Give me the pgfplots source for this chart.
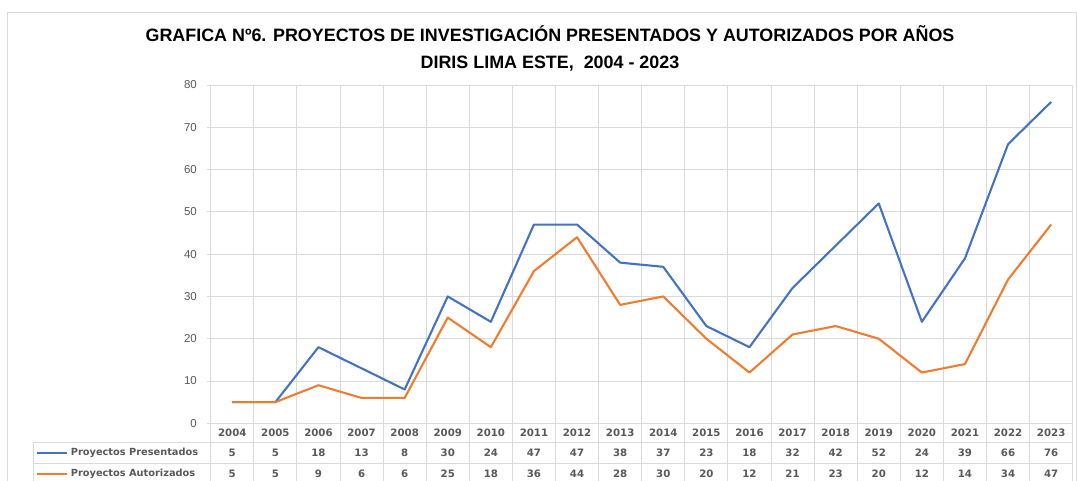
\documentclass[border=0pt]{standalone}
\usepackage{pgfplots}
\pgfplotsset{compat=1.18}
\usepackage{pgfplotstable}
\usepackage{fontspec}
\setmainfont{Liberation Sans}
\newfontfamily\dejavu{DejaVu Sans}
\definecolor{exblue}{HTML}{4472C4}
\definecolor{exorange}{HTML}{ED7D31}
\definecolor{gridc}{HTML}{D9D9D9}
\definecolor{txtgray}{HTML}{595959}

\pgfplotstableread{
year pres aut
2004 5 5
2005 5 5
2006 18 9
2007 13 6
2008 8 6
2009 30 25
2010 24 18
2011 47 36
2012 47 44
2013 38 28
2014 37 30
2015 23 20
2016 18 12
2017 32 21
2018 42 23
2019 52 20
2020 24 12
2021 39 14
2022 66 34
2023 76 47
}\data

\begin{document}
\begin{tikzpicture}
\useasboundingbox (-210.7pt,-56.7pt) rectangle (866.3pt,423.3pt);
% outer chart border
\draw[gridc, line width=0.9pt] (-203.7pt,-80pt) rectangle (865.3pt,411.3pt);
% title
\node[anchor=base, font=\fontsize{17.9}{20}\selectfont\bfseries] at (339.3pt,382pt)
  {GRAFICA Nº6. PROYECTOS DE INVESTIGACIÓN PRESENTADOS Y AUTORIZADOS POR AÑOS};
\node[anchor=base, font=\fontsize{17.9}{20}\selectfont\bfseries] at (339.3pt,354.3pt)
  {DIRIS LIMA ESTE,\ \ 2004 - 2023};

\begin{axis}[
  at={(0pt,0pt)}, anchor=south west,
  scale only axis, width=862pt, height=338.3pt,
  xmin=-0.5, xmax=19.5, ymin=0, ymax=80,
  ytick={0,10,...,80},
  xtick={-0.5,0.5,...,19.5},
  xticklabels={},
  xmajorgrids, ymajorgrids,
  major grid style={gridc, line width=0.9pt},
  axis line style={gridc, line width=0.9pt},
  x tick style={draw=none},
  y tick style={gridc, line width=0.9pt},
  ytick pos=left,
  tick align=outside,
  major tick length=4pt,
  /pgf/number format/assume math mode=true,
  yticklabel style={font=\fontsize{11.5}{13}\selectfont, text=txtgray, inner sep=0pt, anchor=east, xshift=-9.7pt},
  clip=false,
]
\addplot[exblue, line width=2.1pt, line join=round, mark=none] table[x expr=\coordindex, y=pres]{\data};
\addplot[exorange, line width=2.1pt, line join=round, mark=none] table[x expr=\coordindex, y=aut]{\data};
\end{axis}

% data table grid
\foreach \k in {0,...,20} {
  \draw[gridc, line width=0.9pt] ({\k*43.1pt},0pt) -- ({\k*43.1pt},-70pt);
}
\draw[gridc, line width=0.9pt] (-177.7pt,-19.4pt) -- (862pt,-19.4pt);
\draw[gridc, line width=0.9pt] (-177.7pt,-40pt) -- (862pt,-40pt);
\draw[gridc, line width=0.9pt] (-177.7pt,-60.7pt) -- (862pt,-60.7pt);
\draw[gridc, line width=0.9pt] (-177.7pt,-19.4pt) -- (-177.7pt,-70pt);
% legend keys
\draw[exblue, line width=2pt] (-173.7pt,-29.7pt) -- (-143.7pt,-29.7pt);
\draw[exorange, line width=2pt] (-173.7pt,-50.3pt) -- (-143.7pt,-50.3pt);
\node[anchor=west, inner sep=0pt, text=txtgray, font=\dejavu\fontsize{9.8}{11}\selectfont\bfseries] at (-140pt,-29.7pt) {Proyectos Presentados};
\node[anchor=west, inner sep=0pt, text=txtgray, font=\dejavu\fontsize{9.8}{11}\selectfont\bfseries] at (-140pt,-50.3pt) {Proyectos Autorizados};
% table values
\foreach \i in {0,...,19} {
  \pgfplotstablegetelem{\i}{year}\of\data \let\yr\pgfplotsretval
  \node[text=txtgray, inner sep=0pt, font=\dejavu\fontsize{10.2}{11}\selectfont\bfseries] at ({(\i+0.5)*43.1pt},-9.7pt) {\yr};
  \pgfplotstablegetelem{\i}{pres}\of\data \let\pv\pgfplotsretval
  \node[text=txtgray, inner sep=0pt, font=\dejavu\fontsize{10.2}{11}\selectfont\bfseries] at ({(\i+0.5)*43.1pt},-29.7pt) {\pv};
  \pgfplotstablegetelem{\i}{aut}\of\data \let\av\pgfplotsretval
  \node[text=txtgray, inner sep=0pt, font=\dejavu\fontsize{10.2}{11}\selectfont\bfseries] at ({(\i+0.5)*43.1pt},-50.3pt) {\av};
}
\end{tikzpicture}
\end{document}
